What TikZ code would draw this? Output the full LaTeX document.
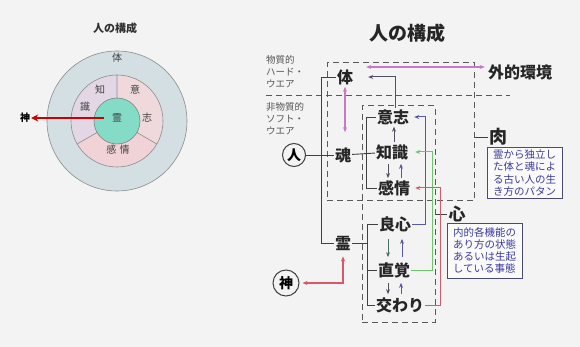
\documentclass[tikz,border=0pt]{standalone}
\usepackage{fontspec}
\setmainfont{Noto Sans CJK JP}
\usetikzlibrary{arrows.meta}
\definecolor{bg}{HTML}{F3F3F3}
\definecolor{ringc}{HTML}{D3DFE3}
\definecolor{lavc}{HTML}{E3D7E6}
\definecolor{pkA}{HTML}{EFD9DD}
\definecolor{pkB}{HTML}{F0D2D7}
\definecolor{tealc}{HTML}{84DCC6}
\definecolor{vioc}{HTML}{C878C8}
\definecolor{dkc}{HTML}{505060}
\definecolor{blc}{HTML}{5858A8}
\definecolor{gnc}{HTML}{6CC46C}
\definecolor{gdc}{HTML}{4A7060}
\definecolor{rdc}{HTML}{D85868}
\definecolor{navy}{HTML}{3A3AA0}
\definecolor{bbord}{HTML}{4A4A78}
\definecolor{lbl}{HTML}{555555}
\begin{document}
\begin{tikzpicture}[x=1pt,y=-1pt,
  ln/.style={draw=black!75, line width=0.9pt},
  dsh/.style={draw=black!65, line width=1pt, dash pattern=on 6pt off 4pt},
  word/.style={font=\fontsize{16}{16}\selectfont\bfseries, inner sep=1pt, text=black!85},
  tipd/.style={-{Stealth[length=5pt,width=4pt]}},
  tipdd/.style={{Stealth[length=5pt,width=4pt]}-{Stealth[length=5pt,width=4pt]}},
  sidelbl/.style={font=\fontsize{9.5}{12}\selectfont, text=lbl, align=left, inner sep=0pt, anchor=north west},
  bbox/.style={draw=bbord, line width=1pt, fill=white!60!bg, text=navy, font=\fontsize{10.5}{12.2}\selectfont, align=left, inner sep=2pt, minimum width=75pt, minimum height=51pt},
  cl/.style={font=\fontsize{10}{10}\selectfont, text=black!75, inner sep=0pt},
  ccirc/.style={circle, draw=black!75, line width=1pt, inner sep=0pt, font=\fontsize{14}{14}\selectfont\bfseries}
]
\fill[bg] (0,0) rectangle (580,347);
\useasboundingbox (0,0) rectangle (580,347);

% ---------- left figure ----------
\node[font=\fontsize{11}{11}\selectfont\bfseries, text=black!80] (ltitle) at (115,28) {人の構成};
\begin{scope}[shift={(117,121)}, y=1pt]
  \fill[ringc] (0,0) circle[radius=70pt];
  \draw[black!45, line width=0.6pt] (0,0) circle[radius=70pt];
  \fill[lavc] (0,0) -- (90:46pt) arc[start angle=90,end angle=210,radius=46pt] -- cycle;
  \fill[pkA] (0,0) -- (-30:46pt) arc[start angle=-30,end angle=90,radius=46pt] -- cycle;
  \fill[pkB] (0,0) -- (210:46pt) arc[start angle=210,end angle=330,radius=46pt] -- cycle;
  \draw[black!45, line width=0.6pt] (0,0) circle[radius=46pt];
  \draw[black!45, line width=0.6pt] (90:23pt) -- (90:46pt) (210:23pt) -- (210:46pt) (330:23pt) -- (330:46pt);
  \fill[tealc] (0,0) circle[radius=23pt];
  \draw[black!50, line width=0.6pt] (0,0) circle[radius=23pt];
  \node[cl] (ltai) at (0,63) {体};
  \node[cl] (lchi) at (-17,31) {知};
  \node[cl] (lshiki) at (-32,14) {識};
  \node[cl] (li) at (18,31) {意};
  \node[cl] (lshi) at (30,3) {志};
  \node[cl] (lkan) at (1,-29) {感\,\,情};
  \node[cl] (lrei) at (0,3) {霊};
  \node[font=\fontsize{10}{10}\selectfont\bfseries, inner sep=1pt] (lkami) at (-92,3) {神};
  \draw[draw=red!80!black, line width=2.6pt, -{Stealth[length=7pt,width=7pt]}, shorten <=8pt] (lrei.west) -- (lkami.east);
\end{scope}

% ---------- right figure ----------
\node[font=\fontsize{19}{19}\selectfont\bfseries, text=black!85] (rtitle) at (407,33) {人の構成};

\node[sidelbl] (hard) at (266,55) {物質的\\ハード・\\ウエア};
\node[sidelbl] (soft) at (266,102) {非物質的\\ソフト・\\ウエア};
\draw[dsh] (266,96) -- (510,96);

\node[dsh, minimum width=147pt, minimum height=138pt, inner sep=0pt] (nikubox) at (400.5,132) {};
\node[dsh, minimum width=73pt, minimum height=216pt, inner sep=0pt] (kokorobox) at (398.5,214) {};

\node[word] (tai) at (345,77) {体};
\node[word] (kon) at (343,155) {魂};
\node[word] (rei) at (343,243) {霊};
\node[word] (ishi) at (393,117) {意志};
\node[word] (chishiki) at (392,152) {知識};
\node[word] (kanjo) at (394,188) {感情};
\node[word] (ryoshin) at (395,224) {良心};
\node[word] (chokkaku) at (394,270) {直覚};
\node[word] (majiwari) at (400,305) {交わり};
\node[word] (gaiteki) at (520,72) {外的環境};
\node[word, font=\fontsize{18}{18}\selectfont\bfseries] (niku) at (498,137) {肉};
\node[word, font=\fontsize{17}{17}\selectfont\bfseries] (kokoro) at (457,214) {心};

\node[ccirc, minimum size=23pt] (hito) at (294,155) {人};
\node[ccirc, minimum size=26pt] (kami) at (286,283) {神};

\node[bbox] (box1) at (524.5,173) {霊から独立し\\た体と魂によ\\る古い人の生\\き方のパタン};
\node[bbox, minimum height=55pt] (box2) at (484.5,250.5) {内的各機能の\\あり方の状態\\あるいは生起\\している事態};

% ticks to labels
\draw[ln] (nikubox.east |- niku) -- (niku.west);
\draw[ln] (kokorobox.east |- kokoro) -- (kokoro.west);

% brackets
\draw[ln] (tai.west) -- ++(-14,0) |- (rei.west);
\draw[ln] (hito) -- (kon);
\draw[ln] (kon) -- (chishiki);
\draw[ln] (ishi.west) -- ++(-9,0) |- (kanjo.west);
\coordinate (b2) at ([xshift=-10pt]ryoshin.west);
\draw[ln] (ryoshin.west) -- (b2) |- (majiwari.west);
\draw[ln] (rei.east) -- (b2 |- rei.east);
\draw[ln] (chokkaku.west) -- (b2 |- chokkaku.west);

% pink arrows
\draw[vioc, line width=1.2pt, tipdd, shorten >=2pt] ([xshift=12pt,yshift=10pt]tai.east) -- ([yshift=5pt]gaiteki.west);
\draw[vioc, line width=1.2pt, tipdd, shorten <=1pt, shorten >=14pt] (tai.south) -- (tai.south |- kon.north);
% 意志 -> 体
\draw[dkc, line width=1pt, tipd] ([xshift=2pt]ishi.north) |- ([xshift=14pt]tai.east);

% small arrows
\draw[dkc, line width=0.9pt, tipd, shorten <=1pt, shorten >=1pt] ([xshift=2pt]chishiki.north) -- ([xshift=1pt]ishi.south);
\draw[dkc, line width=0.9pt, tipd, shorten <=3pt, shorten >=1pt] ([xshift=-4pt]chishiki.south) -- ([xshift=-6pt]kanjo.north);
\draw[blc, line width=0.9pt, tipd, shorten <=1pt, shorten >=3pt] ([xshift=7pt]kanjo.north) -- ([xshift=9pt]chishiki.south);
\draw[gdc, line width=0.9pt, tipd, shorten <=6pt, shorten >=4pt] ([xshift=-7pt]ryoshin.south) -- ([xshift=-6pt]chokkaku.north);
\draw[blc, line width=0.9pt, tipd, shorten <=4pt, shorten >=6pt] ([xshift=8pt]chokkaku.north) -- ([xshift=7pt]ryoshin.south);
\draw[dkc, line width=0.9pt, tipd, shorten <=4pt, shorten >=2pt] ([xshift=-6pt]chokkaku.south) -- ([xshift=-12pt]majiwari.north);
\draw[blc, line width=0.9pt, tipd, shorten <=2pt, shorten >=4pt] ([xshift=1pt]majiwari.north) -- ([xshift=7pt]chokkaku.south);

% coloured feedback connectors
\draw[blc, line width=1pt, tipd, shorten >=4pt] (ryoshin.east) -- ++(13,0) |- (ishi.east);
\draw[gnc, line width=1pt, tipd, shorten >=6pt] (chokkaku.east) -- ++(21,0) |- (chishiki.east);
\draw[rdc, line width=1pt, tipd, shorten >=4pt] (majiwari.east) -- ++(15,0) |- (kanjo.east);

% 霊 <-> 神
\draw[rdc, line width=1.2pt, tipdd, shorten <=5pt, shorten >=3pt] (rei.south) |- (kami.east);
\end{tikzpicture}
\end{document}
